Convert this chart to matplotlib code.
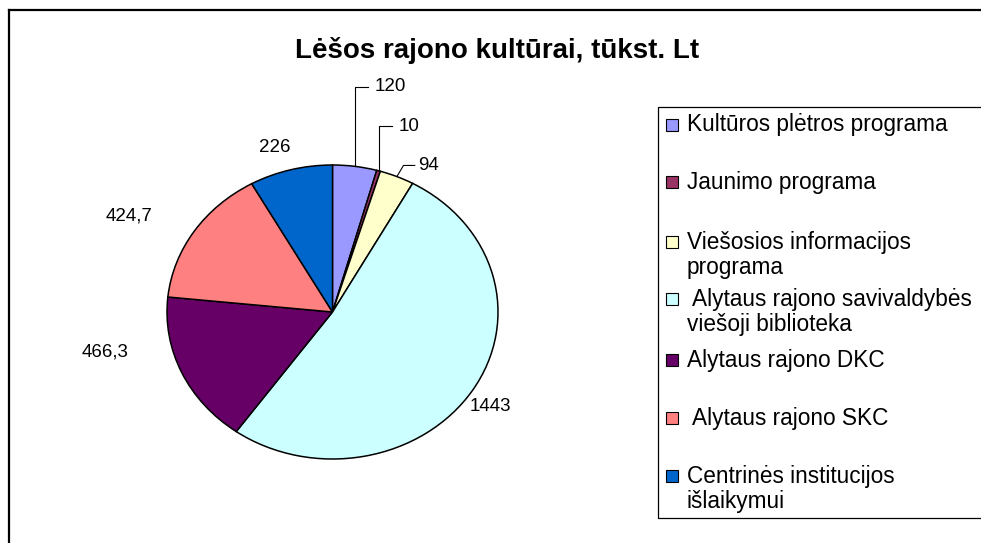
import numpy as np
import matplotlib
matplotlib.use("Agg")
import matplotlib.pyplot as plt
from matplotlib.patches import Rectangle
from matplotlib.lines import Line2D

plt.rcParams['font.family'] = ['Liberation Sans', 'DejaVu Sans']

title = "Lėšos rajono kultūrai, tūkst. Lt"
categories = [
    "Kultūros plėtros programa",
    "Jaunimo programa",
    "Viešosios informacijos\nprograma",
    " Alytaus rajono savivaldybės\nviešoji biblioteka",
    "Alytaus rajono DKC",
    " Alytaus rajono SKC",
    "Centrinės institucijos\nišlaikymui",
]
values = [120, 10, 94, 1443, 466.3, 424.7, 226]
value_labels = ["120", "10", "94", "1443", "466,3", "424,7", "226"]
colors = ["#9999FF", "#993366", "#FFFFCC", "#CCFFFF", "#660066", "#FF8080", "#0066CC"]

W, H = 981, 543
fig = plt.figure(figsize=(W / 100, H / 100), dpi=100)

def fx(x):
    return x / W

def fy(y):
    return 1 - y / H

# pie axes (elliptical as in the reference)
cx, cy, rx, ry = 332.5, 312, 165.5, 147
ax = fig.add_axes([fx(cx - rx), fy(cy + ry), 2 * rx / W, 2 * ry / H])
wedges, _ = ax.pie(values, colors=colors, startangle=90, counterclock=False,
                   wedgeprops=dict(edgecolor="black", linewidth=1.1))
ax.set_aspect('auto')
ax.set_xlim(-1, 1)
ax.set_ylim(-1, 1)
ax.axis('off')

# label layout: (x, y, ha, leader) in data units
label_layout = [
    (0.257, 1.531, 'left', 'elbow'),
    (0.402, 1.265, 'left', 'elbow'),
    (0.517, 0.997, 'left', 'diag'),
    (0.952, -0.646, 'center', None),
    (-1.375, -0.272, 'center', None),
    (-1.229, 0.653, 'center', None),
    (-0.35, 1.122, 'center', None),
]
for w, lab, (tx, ty, ha, leader) in zip(wedges, value_labels, label_layout):
    mid = np.deg2rad((w.theta1 + w.theta2) / 2)
    ex, ey = np.cos(mid), np.sin(mid)
    ax.text(tx, ty, lab, ha=ha, va='center', fontsize=13.5, clip_on=False)
    if leader == 'elbow':
        ax.add_line(Line2D([ex, ex, tx - 0.045], [ey, ty, ty], color='black',
                           linewidth=0.8, clip_on=False))
    elif leader == 'diag':
        ax.add_line(Line2D([ex, ex + 0.04, tx - 0.02], [ey, ty, ty], color='black',
                           linewidth=0.8, clip_on=False))

# title
fig.text(fx(497), fy(50), title, ha='center', va='center', fontsize=20, fontweight='bold')

# figure border (cropped on right/bottom)
fig.add_artist(Line2D([fx(9), fx(W + 5)], [fy(10), fy(10)], color='black', linewidth=1.6,
                      transform=fig.transFigure))
fig.add_artist(Line2D([fx(9), fx(9)], [fy(10), fy(H + 5)], color='black', linewidth=1.6,
                      transform=fig.transFigure))

# legend box drawn manually
fig.add_artist(Rectangle((fx(658), fy(518)), fx(W + 20) - fx(658), fy(107) - fy(518),
                         transform=fig.transFigure, facecolor='white', edgecolor='black',
                         linewidth=0.9))
legend_y = [125, 182, 255, 312, 360, 418, 489]
for cat, col, yy in zip(categories, colors, legend_y):
    first_line_y = yy - (13 if "\n" in cat else 0)
    fig.add_artist(Rectangle((fx(666), fy(first_line_y + 6)), 12 / W, 12 / H,
                             transform=fig.transFigure, facecolor=col, edgecolor='black',
                             linewidth=0.8))
    fig.text(fx(687), fy(yy), cat, ha='left', va='center', fontsize=16.3, linespacing=1.15)

fig.savefig("out.png", dpi=100)
